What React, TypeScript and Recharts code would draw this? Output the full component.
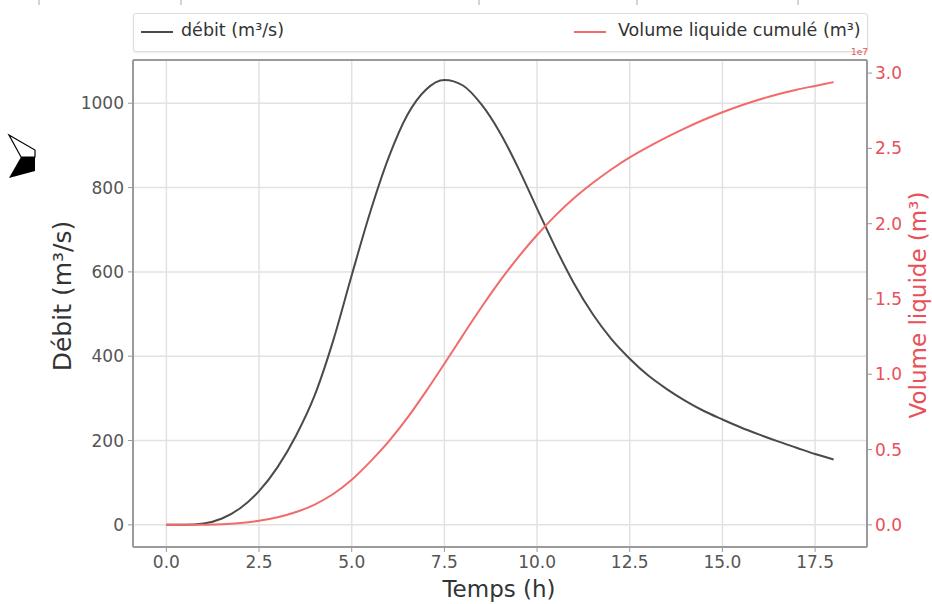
import React from "react";
import {
  ComposedChart,
  Line,
  XAxis,
  YAxis,
  CartesianGrid,
  ReferenceLine,
} from "recharts";

// temps (h)
const hours = [
  0, 0.5, 1, 1.5, 2, 2.5, 3, 3.5, 4, 4.5, 5, 5.5, 6, 6.5, 7, 7.5, 8, 8.5, 9,
  9.5, 10, 10.5, 11, 11.5, 12, 12.5, 13, 13.5, 14, 14.5, 15, 15.5, 16, 16.5, 17,
  17.5, 18,
];

// débit (m3/s)
const debit = [
  0, 0, 3, 15, 40, 80, 137, 212, 307, 437, 592, 742, 872, 972, 1032, 1055, 1042,
  997, 930, 845, 750, 657, 572, 500, 441, 394, 354, 322, 294, 270, 250, 231,
  214, 198, 183, 168, 155,
];

// volume liquide cumulé (x 1e7 m3)
const volumeE7 = [
  0, 0, 0.001, 0.004, 0.012, 0.027, 0.05, 0.085, 0.135, 0.205, 0.3, 0.42, 0.555,
  0.71, 0.885, 1.07, 1.26, 1.445, 1.62, 1.78, 1.925, 2.055, 2.17, 2.27, 2.36,
  2.44, 2.51, 2.575, 2.635, 2.69, 2.74, 2.785, 2.825, 2.86, 2.89, 2.915, 2.94,
];

const hourTicks = [0, 2.5, 5, 7.5, 10, 12.5, 15, 17.5];
const debitTicks = [0, 200, 400, 600, 800, 1000];
const volumeTicks = [0, 0.5, 1, 1.5, 2, 2.5, 3];

const data = hours.map((t, i) => ({ t, debit: debit[i], volume: volumeE7[i] }));

const FONT = "DejaVu Sans";
const SPINE = "#9a9a9a";
const GRAY_TEXT = "#555";
const RED_TEXT = "#e8505a";
const RED_LINE = "#f26b6b";
const DARK_LINE = "#4a4a4a";

function XTitle() {
  return (
    <text x={499} y={597} textAnchor="middle" fontFamily={FONT} fontSize={23} fill="#333">
      Temps (h)
    </text>
  );
}

function LeftTitle() {
  return (
    <text
      transform="translate(62,296) rotate(-90)"
      textAnchor="middle"
      dominantBaseline="central"
      fontFamily={FONT}
      fontSize={25}
      fill="#333"
    >
      Débit (m³/s)
    </text>
  );
}

function RightTitle() {
  return (
    <text
      transform="translate(918,305) rotate(-90)"
      textAnchor="middle"
      dominantBaseline="central"
      fontFamily={FONT}
      fontSize={23}
      fill={RED_TEXT}
    >
      Volume liquide (m³)
    </text>
  );
}

function ChartLegend() {
  return (
    <div
      style={{
        position: "absolute",
        left: 133,
        top: 13,
        width: 733,
        height: 37,
        border: "1px solid #dcdcdc",
        borderRadius: 3,
        boxShadow: "0 1px 2px rgba(0,0,0,0.08)",
        background: "#fff",
        fontFamily: FONT,
        fontSize: 17.5,
        color: "#333",
      }}
    >
      <div style={{ position: "absolute", left: 7, top: 17, width: 32, borderTop: `2px solid ${DARK_LINE}` }} />
      <div style={{ position: "absolute", left: 47, top: 6, whiteSpace: "nowrap" }}>débit (m³/s)</div>
      <div style={{ position: "absolute", left: 440, top: 17, width: 32, borderTop: `2px solid ${RED_LINE}` }} />
      <div style={{ position: "absolute", left: 484, top: 6, whiteSpace: "nowrap" }}>Volume liquide cumulé (m³)</div>
    </div>
  );
}

export default function App() {
  return (
    <div style={{ position: "absolute", left: 0, top: 0, width: 932, height: 604, background: "#fff" }}>
      <ComposedChart width={932} height={604} data={data} margin={{ top: 60, right: 0, bottom: 0, left: 0 }}>
        <CartesianGrid yAxisId="left" stroke="#e2e2e2" strokeWidth={1.5} />
        <XAxis
          dataKey="t"
          type="number"
          domain={[-0.9, 18.9]}
          ticks={hourTicks}
          tickFormatter={(v: number) => v.toFixed(1)}
          height={57}
          tickSize={5}
          tickMargin={4}
          axisLine={{ stroke: SPINE, strokeWidth: 2 }}
          tickLine={{ stroke: SPINE }}
          tick={{ fill: GRAY_TEXT, fontSize: 17, fontFamily: FONT }}
          label={<XTitle />}
        />
        <YAxis
          yAxisId="left"
          domain={[-52.5, 1102.5]}
          ticks={debitTicks}
          width={133}
          tickSize={5}
          tickMargin={4}
          axisLine={{ stroke: SPINE, strokeWidth: 2 }}
          tickLine={{ stroke: SPINE }}
          tick={{ fill: GRAY_TEXT, fontSize: 17, fontFamily: FONT }}
          label={<LeftTitle />}
        />
        <YAxis
          yAxisId="right"
          orientation="right"
          domain={[-0.147, 3.087]}
          ticks={volumeTicks}
          tickFormatter={(v: number) => v.toFixed(1)}
          width={65}
          tickSize={5}
          tickMargin={3}
          axisLine={{ stroke: SPINE, strokeWidth: 2 }}
          tickLine={{ stroke: SPINE }}
          tick={{ fill: RED_TEXT, fontSize: 17, fontFamily: FONT }}
          label={<RightTitle />}
        />
        <ReferenceLine yAxisId="left" y={1102.5} stroke={SPINE} strokeWidth={2} />
        <Line
          yAxisId="left"
          type="monotone"
          dataKey="debit"
          stroke={DARK_LINE}
          strokeWidth={2}
          dot={false}
          isAnimationActive={false}
        />
        <Line
          yAxisId="right"
          type="monotone"
          dataKey="volume"
          stroke={RED_LINE}
          strokeWidth={2}
          dot={false}
          isAnimationActive={false}
        />
      </ComposedChart>
      <ChartLegend />
      <svg width={932} height={604} style={{ position: "absolute", left: 0, top: 0, pointerEvents: "none" }}>
        <text x={851} y={55} fontFamily={FONT} fontSize={9} fill={RED_TEXT}>1e7</text>
        {[39, 181, 479, 637, 798].map((x) => (
          <line key={x} x1={x} y1={0} x2={x} y2={5} stroke="#aaa" strokeWidth={1} />
        ))}
        <polygon points="9,135 35,150 35,157 21,157" fill="#fff" stroke="#000" strokeWidth={1.2} />
        <polygon points="21,157 35,157 35,171 9,178" fill="#000" />
      </svg>
    </div>
  );
}
